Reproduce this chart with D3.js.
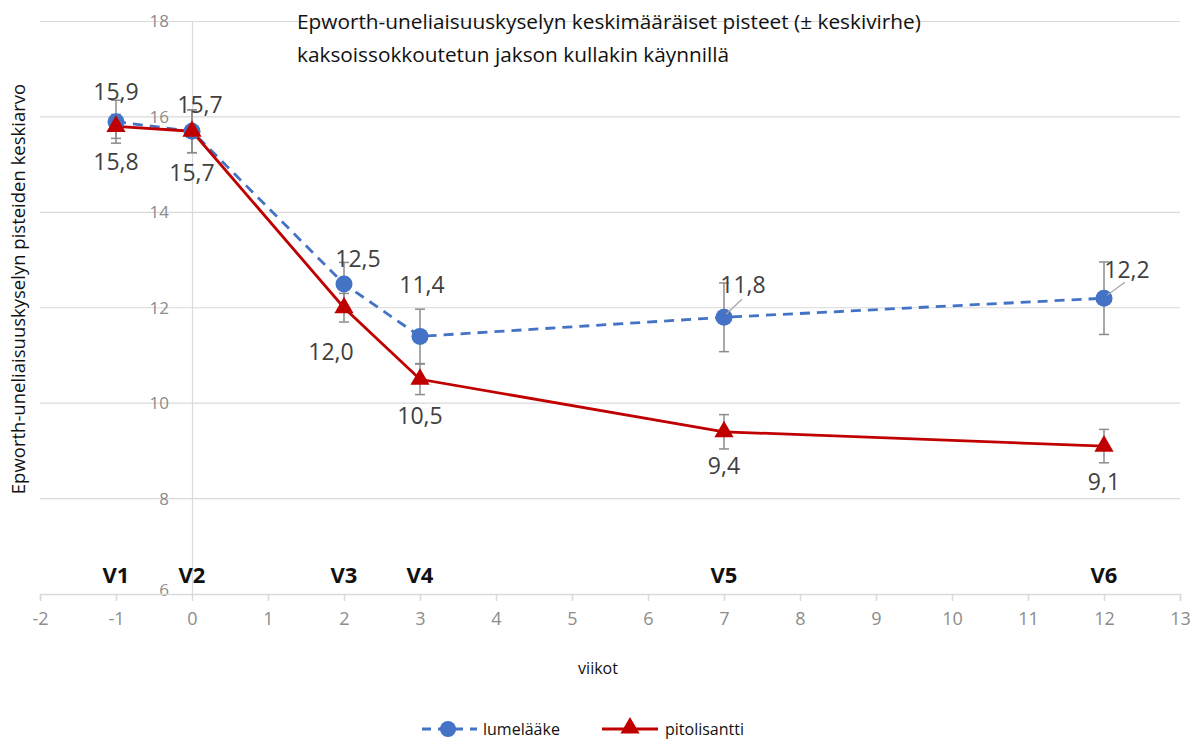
<!DOCTYPE html>
<html><head><meta charset="utf-8">
<script src="https://cdn.jsdelivr.net/npm/d3@7"></script>
<style>
html,body{margin:0;padding:0;background:#fff;}
svg{display:block;font-family:"Open Sans","Liberation Sans",sans-serif;}
</style></head>
<body><svg id="c" width="1195" height="744"></svg>
<script>
const weeks = [-1, 0, 2, 3, 7, 12];
const visits = ["V1", "V2", "V3", "V4", "V5", "V6"];
const placebo = [15.9, 15.7, 12.5, 11.4, 11.8, 12.2];
const placeboSE = [0.45, 0.45, 0.45, 0.57, 0.72, 0.76];
const pitolisant = [15.8, 15.7, 12.0, 10.5, 9.4, 9.1];
const pitolisantSE = [0.25, 0.45, 0.3, 0.32, 0.36, 0.35];
const xTicks = [-2, -1, 0, 1, 2, 3, 4, 5, 6, 7, 8, 9, 10, 11, 12, 13];
const yTicks = [6, 8, 10, 12, 14, 16, 18];
const seriesNames = ["lumelääke", "pitolisantti"];
const titleLines = ["Epworth-uneliaisuuskyselyn keskimääräiset pisteet (± keskivirhe)", "kaksoissokkoutetun jakson kullakin käynnillä"];
const xTitle = "viikot";
const yTitle = "Epworth-uneliaisuuskyselyn pisteiden keskiarvo";
// label placement (layout, not data)
const placeboLabelOff = [[0,-22],[8,-18],[14,-17],[2,-43],[19,-24],[23,-20]];
const pitoLabelOff = [[0,44],[0,50],[-13,52],[0,45],[0,42],[0,44]];
const leaderLines = [null,null,null,null,[[2,-3],[18,-18]],[[3,-3],[21,-16]]];

const svg = d3.select("#c");
const x = d3.scaleLinear().domain([-2, 13]).range([40, 1180]);
const y = d3.scaleLinear().domain([6, 18]).range([594, 21.5]);
const fmt = v => d3.format(".1f")(v).replace(".", ",");
const intFmt = v => String(v);
const blue = "#4472C4", red = "#C00000", gray = "#8c8c8c";

// gridlines
svg.append("g").selectAll("line").data(yTicks.filter(t => t > 6)).join("line")
  .attr("x1", x(-2)).attr("x2", x(13)).attr("y1", d => y(d)).attr("y2", d => y(d))
  .attr("stroke", "#d9d9d9").attr("stroke-width", 1.2);

// y axis (at x=0)
const yAxis = svg.append("g").attr("transform", `translate(${x(0)},0)`)
  .call(d3.axisLeft(y).tickValues(yTicks).tickSize(0).tickPadding(23).tickFormat(intFmt));
yAxis.select(".domain").attr("stroke", "#d9d9d9").attr("stroke-width", 1.2);
yAxis.selectAll("text").attr("fill", gray).attr("font-size", 17).attr("font-family", "Open Sans, sans-serif");
yAxis.selectAll(".tick").filter(d => d === 6).select("text").attr("dy", "0.1em");

// x axis
const xAxis = svg.append("g").attr("transform", `translate(0,${y(6)})`)
  .call(d3.axisBottom(x).tickValues(xTicks).tickSize(7).tickPadding(11).tickFormat(intFmt));
xAxis.select(".domain").attr("stroke", "#d9d9d9").attr("stroke-width", 1.5);
xAxis.selectAll(".tick line").attr("stroke", "#d9d9d9").attr("stroke-width", 1.5);
xAxis.selectAll("text").attr("fill", gray).attr("font-size", 18).attr("font-family", "Open Sans, sans-serif");

// visit labels
svg.append("g").selectAll("text").data(weeks).join("text")
  .attr("x", d => x(d)).attr("y", 583).attr("text-anchor", "middle")
  .attr("font-size", 22).attr("font-weight", "bold").attr("fill", "#111")
  .text((d, i) => visits[i]);

// titles
svg.append("g").selectAll("text").data(titleLines).join("text")
  .attr("x", 297).attr("y", (d, i) => 29 + i * 33)
  .attr("font-size", 20.8).attr("fill", "#111").text(d => d);
svg.append("text").attr("x", 598).attr("y", 674).attr("text-anchor", "middle")
  .attr("font-size", 16).attr("fill", "#111").text(xTitle);
svg.append("text").attr("transform", "translate(25,289) rotate(-90)").attr("text-anchor", "middle")
  .attr("font-size", 18.5).attr("fill", "#111").text(yTitle);

// error bars
function errBars(vals, se) {
  const g = svg.append("g").attr("stroke", gray).attr("stroke-width", 1.5);
  vals.forEach((v, i) => {
    const cx = x(weeks[i]);
    g.append("line").attr("x1", cx).attr("x2", cx).attr("y1", y(v + se[i])).attr("y2", y(v - se[i]));
    [v + se[i], v - se[i]].forEach(e => g.append("line").attr("x1", cx - 5).attr("x2", cx + 5).attr("y1", y(e)).attr("y2", y(e)));
  });
}
errBars(placebo, placeboSE);
errBars(pitolisant, pitolisantSE);

const line = d3.line().x((d, i) => x(weeks[i])).y(d => y(d));
svg.append("path").datum(placebo).attr("d", line).attr("fill", "none")
  .attr("stroke", blue).attr("stroke-width", 2.8).attr("stroke-dasharray", "10,7");
svg.append("path").datum(pitolisant).attr("d", line).attr("fill", "none")
  .attr("stroke", red).attr("stroke-width", 2.8);

svg.append("g").selectAll("circle").data(placebo).join("circle")
  .attr("cx", (d, i) => x(weeks[i])).attr("cy", d => y(d)).attr("r", 8.5).attr("fill", blue);
const tri = d3.symbol().type(d3.symbolTriangle).size(160);
svg.append("g").selectAll("path").data(pitolisant).join("path")
  .attr("transform", (d, i) => `translate(${x(weeks[i])},${y(d)})`).attr("d", tri).attr("fill", red);

// leader lines
leaderLines.forEach((l, i) => {
  if (!l) return;
  const cx = x(weeks[i]), cy = y(placebo[i]);
  svg.append("line").attr("x1", cx + l[0][0]).attr("y1", cy + l[0][1]).attr("x2", cx + l[1][0]).attr("y2", cy + l[1][1])
    .attr("stroke", "#a6a6a6").attr("stroke-width", 1.2);
});

// data labels
function labels(vals, off) {
  svg.append("g").selectAll("text").data(vals).join("text")
    .attr("x", (d, i) => x(weeks[i]) + off[i][0]).attr("y", (d, i) => y(d) + off[i][1])
    .attr("text-anchor", "middle").attr("font-size", 23).attr("fill", "#404040").text(d => fmt(d));
}
labels(placebo, placeboLabelOff);
labels(pitolisant, pitoLabelOff);

// legend
const lg = svg.append("g").attr("transform", "translate(0,729)");
lg.append("line").attr("x1", 420).attr("x2", 477).attr("stroke", blue).attr("stroke-width", 2.8).attr("stroke-dasharray", "9,7").attr("stroke-dashoffset", -2);
lg.append("circle").attr("cx", 448).attr("r", 8).attr("fill", blue);
lg.append("text").attr("x", 483).attr("y", 6).attr("font-size", 16).attr("fill", "#111").text(seriesNames[0]);
lg.append("line").attr("x1", 602).attr("x2", 658).attr("stroke", red).attr("stroke-width", 2.8);
lg.append("path").attr("transform", "translate(630,-1)").attr("d", tri).attr("fill", red);
lg.append("text").attr("x", 665).attr("y", 6).attr("font-size", 16).attr("fill", "#111").text(seriesNames[1]);
</script></body></html>
